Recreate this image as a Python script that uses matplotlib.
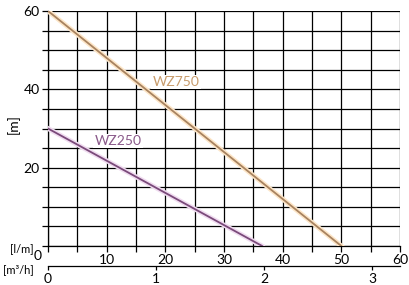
import numpy as np
import matplotlib.pyplot as plt
import matplotlib.patheffects as pe

# pump curves: flow [l/min] vs head [m]
wz750_flow = [0, 50]
wz750_head = [60, 0]
wz250_flow = [0, 36.5]
wz250_head = [30, 0]

x_ticks = [10, 20, 30, 40, 50, 60]
y_ticks = [20, 40, 60]
m3h_ticks = [0, 1, 2, 3]

plt.rcParams['font.family'] = ['Lato', 'DejaVu Sans']

fig = plt.figure(figsize=(4.10, 2.85), dpi=100)
ax = fig.add_axes([48/410, 39/285, 352/410, 235/285])

ax.set_xlim(0, 60)
ax.set_ylim(0, 60)
ax.set_xticks(np.arange(0, 61, 5))
ax.set_yticks(np.arange(0, 61, 5))
ax.set_xticklabels([str(v) if v in x_ticks else '' for v in range(0, 61, 5)], fontsize=10)
ax.set_yticklabels([str(v) if v in y_ticks else '' for v in range(0, 61, 5)], fontsize=10)
ax.grid(True, color='black', linewidth=0.9)
ax.tick_params(axis='both', length=4, width=0.9, color='black', pad=2)
for s in ['top', 'right']:
    ax.spines[s].set_visible(False)
for s in ['left', 'bottom']:
    ax.spines[s].set_linewidth(0.9)

glow = [pe.Stroke(linewidth=3.5, foreground='#fde6c8'), pe.Normal()]
ax.plot(wz750_flow, wz750_head, color='#a88360', linewidth=1.3, path_effects=glow, zorder=3)
glow2 = [pe.Stroke(linewidth=3.5, foreground='#f0dcf0'), pe.Normal()]
ax.plot(wz250_flow, wz250_head, color='#7a4a7a', linewidth=1.3, path_effects=glow2, zorder=3)

box = dict(facecolor='white', edgecolor='none', pad=1)
ax.text(21.8, 41.9, 'WZ750', color='#c89c6c', fontsize=10, ha='center', va='center', bbox=box, zorder=4)
ax.text(11.9, 26.8, 'WZ250', color='#8a5a8a', fontsize=10, ha='center', va='center', bbox=box, zorder=4)

ax.set_ylabel('[m]', fontsize=10)
ax.yaxis.set_label_coords(-0.08, 0.52)

fig.text(10/410, 1 - 249/285, '[l/m]', fontsize=8, va='center', ha='left')
fig.text(38/410, 1 - 256/285, '0', fontsize=10, va='center', ha='center')
fig.text(3/410, 1 - 270/285, '[m³/h]', fontsize=8, va='center', ha='left')

# second flow scale in m3/h
ax2 = fig.add_axes([48/410, 19/285, 352/410, 0.001])
ax2.set_xlim(0, 352/108)
ax2.set_ylim(0, 1)
ax2.set_xticks(m3h_ticks)
ax2.set_xticklabels([str(v) for v in m3h_ticks], fontsize=10)
ax2.set_yticks([])
ax2.tick_params(axis='x', length=3, width=0.9, pad=2)
for s in ['top', 'right', 'left']:
    ax2.spines[s].set_visible(False)
ax2.spines['bottom'].set_linewidth(0.9)
ax2.patch.set_alpha(0)

fig.savefig('out.png', dpi=100)
